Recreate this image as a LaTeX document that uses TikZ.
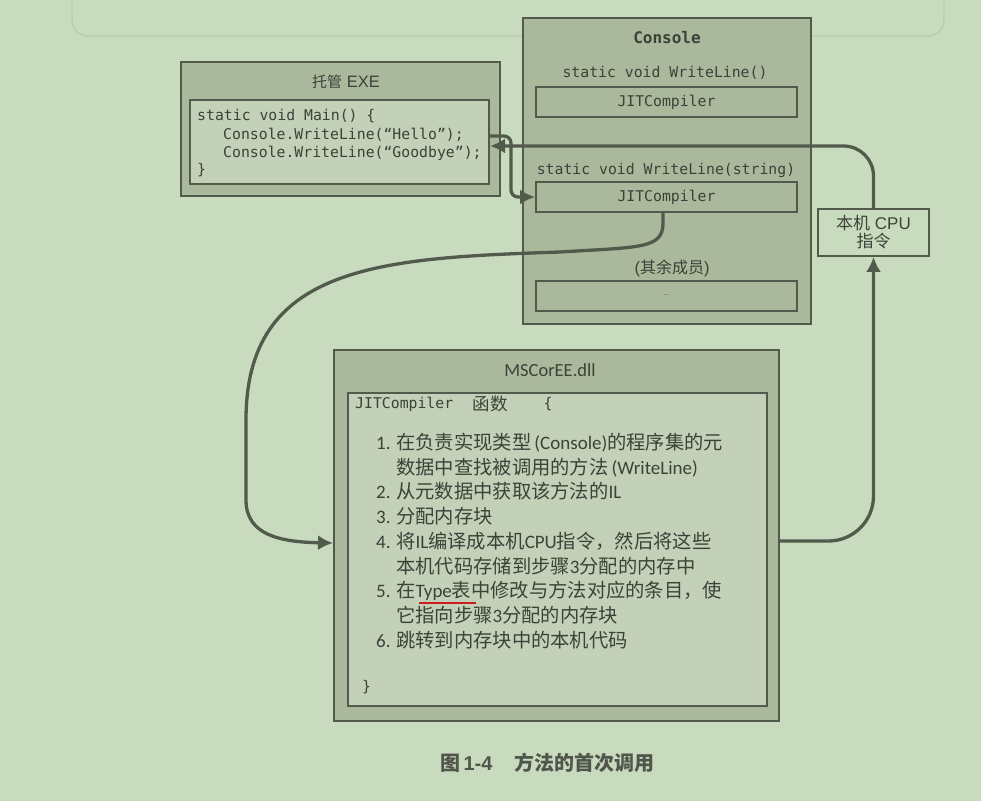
\documentclass[tikz,border=0pt]{standalone}
\usepackage{fontspec}
\usepackage{tikz}
\usetikzlibrary{positioning}
\usetikzlibrary{calc}
\usetikzlibrary{arrows.meta}
\setmainfont{Carlito}
\setmonofont{DejaVu Sans Mono}
\newfontfamily\cjkfont{Noto Sans CJK SC}
\newfontfamily\arialfont{Liberation Sans}
\newcommand{\zh}[1]{{\cjkfont #1}}
\newcommand{\zi}[1]{{\cjkfont\fontsize{19.3}{22}\selectfont #1}}
\definecolor{pagebg}{RGB}{201,219,190}
\definecolor{boxfill}{RGB}{170,184,156}
\definecolor{codefill}{RGB}{194,209,184}
\definecolor{edge}{RGB}{82,90,76}
\definecolor{ink}{RGB}{60,66,56}
\definecolor{faint}{RGB}{186,204,176}
\definecolor{typered}{RGB}{200,30,30}
\definecolor{capink}{RGB}{80,86,76}

\begin{document}
\begin{tikzpicture}[x=1pt, y=-1pt,
  outerbox/.style={draw=edge, line width=2pt, fill=boxfill, anchor=north west, inner sep=0pt},
  codebox/.style={draw=edge, line width=2pt, fill=codefill, anchor=north west, inner sep=0pt},
  slot/.style={draw=edge, line width=2pt, fill=boxfill, minimum width=261pt, minimum height=30pt,
    inner sep=0pt, text=ink, font=\ttfamily\fontsize{14.8}{17}\selectfont},
  code/.style={inner sep=0pt, text=ink, anchor=west, text height=11pt, text depth=3pt,
    font=\ttfamily\fontsize{14.8}{17}\selectfont},
  title/.style={inner sep=0pt, text=ink, font=\arialfont\fontsize{16.5}{18}\selectfont},
  itemtext/.style={inner sep=0pt, text=ink, anchor=west, text height=16pt, text depth=3pt,
    font=\fontsize{19}{21}\selectfont},
  flow/.style={draw=edge, line width=3.3pt, -{Latex[length=15pt,width=15pt]}}
]
\useasboundingbox (0,0) rectangle (981,801);
\fill[pagebg] (0,0) rectangle (981,801);
\draw[faint, line width=1.2pt, rounded corners=16pt] (72,-5) -- (72,36) -- (944,36) -- (944,-5);

\node[outerbox, minimum width=319pt, minimum height=134pt] (exe) at (180,61) {};
\node[title] (exetitle) at (346,82) {{\cjkfont\fontsize{15}{18}\selectfont 托管} EXE};
\node[codebox, minimum width=299pt, minimum height=84pt] (mainbox) at (189,99) {};
\node[code] (mainl1) at (197,116) {static void Main() \{};
\node[code] (mainl2) at (223,135) {Console.WriteLine(“Hello”);};
\node[code] (mainl3) at (223,153) {Console.WriteLine(“Goodbye”);};
\node[code] (mainl4) at (197,170) {\}};

\node[outerbox, minimum width=288pt, minimum height=306pt] (console) at (522,17) {};
\node[code, anchor=center, font=\ttfamily\bfseries\fontsize{16}{18}\selectfont] (consoletitle) at (667,39) {Console};
\node[code, anchor=center] (sig1) at (665,73) {static void WriteLine()};
\node[slot] (jit1) at (666.5,102) {JITCompiler};
\node[code, anchor=center] (sig2) at (666,170) {static void WriteLine(string)};
\node[slot] (jit2) at (666.5,197) {JITCompiler};
\node[title] (others) at (672,268) {({\cjkfont\fontsize{16}{18}\selectfont 其余成员})};
\node[slot, font=\arialfont\scriptsize] (rest) at (666.5,295.5) {\ldots};

\node[draw=edge, line width=1.8pt, minimum width=111pt, minimum height=47pt, inner sep=0pt,
  align=center, text=ink, font=\arialfont\fontsize{17}{18}\selectfont] (cpu) at (873.5,232.5)
  {{\cjkfont 本机} CPU\\{\cjkfont 指令}};

\node[outerbox, minimum width=445pt, minimum height=371pt] (mscoree) at (333,349) {};
\node[inner sep=0pt, text=ink, font=\fontsize{18.5}{20}\selectfont] (msctitle) at (550,370) {MSCorEE.dll};
\node[codebox, minimum width=419pt, minimum height=313pt] (jitbody) at (347,392) {};
\node[code] (jithead) at (355,404) {JITCompiler};
\node[inner sep=0pt, text=ink, font=\cjkfont\fontsize{17.5}{19}\selectfont] (funcword) at (490,404) {函数};
\node[code, anchor=center] (openbrace) at (548,404) {\{};

\foreach \i/\n in {0/1, 2/2, 3/3, 4/4, 6/5, 8/6}
  \node[itemtext] (num\n) at (376,{443+24.7*\i}) {\n.};
\foreach \i/\txt in {
  0/{\zi{在负责实现类型}\,(Console)\zi{的程序集的元}},
  1/{\zi{数据中查找被调用的方法}\,(WriteLine)},
  2/{\zi{从元数据中获取该方法的}IL},
  3/{\zi{分配内存块}},
  4/{\zi{将}IL\zi{编译成本机}CPU\zi{指令，然后将这些}},
  5/{\zi{本机代码存储到步骤}3\zi{分配的内存中}},
  6/{\zi{在}Type\zi{表中修改与方法对应的条目，使}},
  7/{\zi{它指向步骤}3\zi{分配的内存块}},
  8/{\zi{跳转到内存块中的本机代码}}}
  \node[itemtext] (line\i) at (396,{443+24.7*\i}) {\txt};
\draw[typered, line width=1.6pt] (419,603) -- (476,603);
\node[code] (closebrace) at (362,687) {\}};

\node[inner sep=0pt, anchor=west, text=capink, font=\bfseries\fontsize{20}{22}\selectfont] (caption) at (440,763)
  {\zh{图}\,{\arialfont 1-4}\hspace{22pt}\zh{方法的首次调用}};

\draw[flow, rounded corners=7pt] ([yshift=6pt]mainbox.east) -| ($(jit2.west)+(-24pt,0)$) -- (jit2.west);
\draw[flow, rounded corners=30pt] (cpu.north) |- ([yshift=-4pt]mainbox.east);
\draw[flow] ([xshift=-3.5pt]jit2.south) -- ++(0,10) .. controls +(0,26) and (640,247) .. (560,252)
  .. controls (380,258) and (246,265) .. (246,420) -- (246,500)
  .. controls (246,535) and (280,542) .. ([yshift=-7.5pt]mscoree.west);
\draw[flow, rounded corners=45pt] ([yshift=-5.5pt]mscoree.east) -| (cpu.south);
\end{tikzpicture}
\end{document}
